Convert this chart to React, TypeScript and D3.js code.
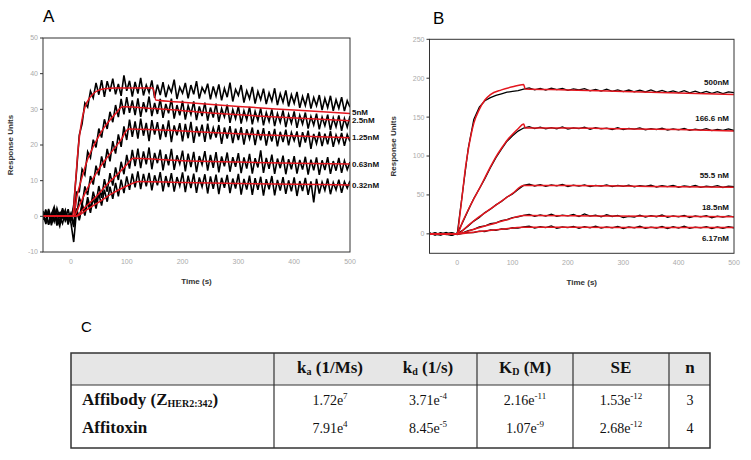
import React from 'react';
import * as d3 from 'd3';

// ---------- panel A (sampled every 5 s from -50 s) ----------
const aStart = -50;
const aStep = 5;
const aTraces: number[][] = [
  // 5nM
  [1.5,-2.1,0.8,-1.2,2.4,-0.6,-2.8,1.1,-0.9,2.0,-1.4,3.2,12.5,22.8,25.9,31.8,30.6,35.1,33.2,37.4,34.1,38.2,33.5,37.9,35.0,38.6,34.2,37.1,33.8,39.5,35.2,38.0,33.6,37.7,34.4,38.8,33.9,36.8,34.7,38.1,33.2,36.9,34.0,37.6,33.4,36.5,34.8,38.3,32.9,36.2,34.5,37.4,33.1,36.8,34.2,37.9,33.0,36.1,34.6,37.2,32.8,36.4,33.7,37.0,32.5,35.9,33.4,37.5,32.2,35.6,33.9,36.8,31.9,35.2,33.0,36.3,31.6,35.0,32.7,35.8,31.5,34.6,32.3,35.9,31.2,34.4,32.0,35.3,30.8,34.1,31.7,34.9,30.4,33.6,31.1,34.5,30.2,33.3,31.0,34.0,29.8,33.1,30.5,33.8,29.6,32.7,30.3,33.4,29.5,32.4,30.6],
  // 2.5nM
  [-0.8,1.9,-2.4,0.6,-1.5,2.2,-0.3,-2.0,1.4,-1.1,0.9,-2.5,6.8,6.9,13.2,11.6,18.1,16.4,21.5,19.3,24.6,22.1,27.2,24.5,29.3,26.4,31.2,27.8,32.9,28.6,33.4,29.0,32.5,28.4,33.1,27.9,32.0,29.2,33.6,28.1,31.8,28.7,32.9,27.6,31.5,28.9,33.0,27.4,31.2,28.3,32.4,27.1,31.0,28.6,32.2,27.0,30.8,28.1,31.9,26.8,30.5,27.7,31.6,26.5,30.2,27.9,31.3,26.2,29.9,27.4,30.9,26.0,29.6,27.1,30.7,25.8,29.4,26.9,30.3,25.5,29.1,26.6,30.0,25.3,28.8,26.3,29.7,25.0,28.6,26.1,29.4,24.8,28.3,25.9,29.1,24.6,28.0,25.6,28.8,24.4,27.8,25.4,28.5,24.2,27.6,25.1,28.3,24.0,27.4,25.0,28.1],
  // 1.25nM
  [0.4,-1.7,2.1,-0.9,1.2,-2.6,0.7,1.8,-1.3,0.2,-0.6,2.4,0.1,5.2,3.1,8.4,6.0,11.3,8.9,14.2,11.5,16.8,13.6,18.9,15.4,21.1,17.6,23.0,19.5,25.2,21.4,27.1,22.3,26.6,21.8,27.4,22.6,26.2,21.1,27.0,22.9,26.4,21.5,25.8,22.2,26.9,20.8,25.5,22.7,26.1,21.0,25.9,21.9,26.5,20.6,25.2,22.4,25.7,20.9,26.0,21.6,24.8,22.1,25.6,20.3,24.9,21.8,25.3,20.5,24.6,21.4,25.0,20.1,24.4,21.7,24.9,20.0,24.2,21.3,24.7,19.8,23.9,21.0,24.5,19.6,23.7,20.8,24.3,19.9,23.5,21.2,23.8,19.4,23.6,20.7,24.0,18.9,23.1,20.4,23.7,19.7,23.2,20.2,23.9,19.5,22.8,20.6,23.4,19.8,22.9,21.0],
  // 0.63nM
  [-1.0,1.3,-2.2,0.5,2.6,-1.6,0.9,-0.4,1.7,-2.3,0.8,-3.0,2.2,-0.7,3.6,0.9,5.4,2.1,6.9,3.8,8.5,5.2,10.4,6.9,12.1,8.6,13.7,10.2,15.3,11.8,17.2,13.4,18.6,14.1,19.0,13.5,18.2,14.6,19.3,13.2,17.8,14.9,18.7,12.9,17.4,14.3,18.9,13.0,17.1,14.7,18.4,12.6,17.6,13.8,18.1,12.4,16.9,14.5,18.3,12.8,17.2,13.6,18.0,12.3,16.8,14.0,17.9,12.5,16.6,13.9,17.7,12.1,16.5,13.4,17.5,12.0,16.3,13.7,18.5,12.2,16.4,13.3,17.3,11.9,16.2,13.5,17.0,11.8,16.0,13.2,16.9,12.0,15.8,13.1,16.7,11.7,15.9,12.9,16.5,11.6,15.7,13.0,16.6,11.9,15.5,12.8,16.4,12.2,15.6,13.1,15.2],
  // 0.32nM
  [0.9,-1.4,1.6,-2.5,0.3,1.1,-1.9,2.3,-0.7,0.4,-1.8,-7.2,1.5,-1.1,3.0,0.2,4.1,1.0,5.3,2.2,6.4,3.0,7.5,4.1,8.3,4.9,9.4,5.6,10.3,6.5,11.2,7.4,12.0,8.1,12.6,7.6,11.9,8.4,12.2,7.3,11.5,8.7,12.4,7.0,11.3,8.2,12.1,6.9,11.0,8.5,12.3,6.8,11.4,7.9,12.0,6.6,10.9,8.3,11.8,6.4,11.2,7.7,11.7,6.2,10.8,8.0,11.6,6.5,10.6,7.8,11.9,6.1,10.5,7.5,11.4,6.0,10.7,7.4,11.1,5.8,10.4,7.6,11.3,5.9,10.2,7.2,11.0,6.3,10.1,7.0,10.9,5.7,9.9,7.1,10.8,6.0,9.8,3.9,10.5,6.4,9.6,7.3,10.6,6.2,9.5,7.4,10.3,6.6,9.7,7.9,10.0],
];

// fitted curves, [time, response]
const aFits: [number, number][][] = [
  [[-50,0],[3,0],[8,9],[13,19],[18,25.5],[25,30.5],[35,33.5],[45,35],[60,35.8],[80,36],[147,36],[152,32.6],[200,32],[300,30.8],[400,29.8],[500,28.8]],
  [[-50,0],[5,0],[10,5],[20,11],[30,16],[40,19.5],[50,22.5],[60,25],[70,27],[80,28.8],[93,30.7],[150,30.2],[250,29],[350,28],[500,26.8]],
  [[-50,0],[5,0],[15,3],[30,8],[45,12],[60,15.5],[75,18.5],[90,21.5],[103,24.5],[150,24.3],[250,23.5],[350,22.8],[500,22]],
  [[-50,0],[8,0],[25,2.5],[45,5.5],[65,9],[85,12],[100,14.5],[112,16.3],[150,16],[200,15.6],[300,15.2],[400,14.9],[500,14.7]],
  [[-50,0],[8,0],[30,2],[50,4],[75,6.5],[100,8.5],[122,9.8],[200,9.5],[300,9.2],[400,9],[500,8.8]],
];
const aLabels = ['5nM', '2.5nM', '1.25nM', '0.63nM', '0.32nM'];
const aLabelAt = [29.2, 27, 22.2, 14.6, 8.7];
const aYTicks = [-10, 0, 10, 20, 30, 40, 50];

// ---------- panel B (sampled every 10 s from -50 s) ----------
const bStart = -50;
const bStep = 10;
const bTraces: number[][] = [
  // 500nM
  [1.2,-1.5,0.8,-0.9,1.6,-0.5,55,110,147,163,171,175,178,180,182,183,184,186,187.5,185.0,186.8,184.7,187.2,185.3,186.9,184.4,186.3,184.9,186.6,183.8,185.7,183.5,185.9,183.2,185.1,182.9,184.8,182.6,184.5,182.3,184.9,182.0,184.2,181.8,183.6,181.5,183.9,181.2,183.3,180.9,183.0,180.6,182.7,180.2,182.4,181.5],
  // 166.6 nM
  [-0.8,1.4,-1.2,0.6,-1.7,0.9,15,30.5,45.5,58,71,85,98,109,119,126,132,136,137.8,135.2,137.1,134.9,136.6,135.0,137.4,134.6,136.2,135.3,137.0,134.4,136.5,134.8,135.9,134.1,136.3,133.9,135.6,134.5,136.1,133.6,135.2,134.0,135.8,133.3,134.9,133.7,135.4,132.9,134.6,133.4,135.1,132.6,134.2,133.0,134.8,132.8],
  // 55.5 nM
  [0.7,-1.3,1.5,-0.6,-1.9,0.4,4.5,10.2,16.4,21.0,27.3,31.5,37.2,41.6,47.4,51.2,57.0,62.3,63.9,61.5,63.2,61.0,62.8,61.7,63.5,60.9,62.6,61.3,63.0,60.7,62.4,61.4,62.9,60.6,62.2,61.1,62.7,60.4,62.0,60.9,62.5,60.2,61.8,60.8,62.3,59.9,61.6,60.5,62.1,59.7,61.4,60.3,61.9,59.6,61.2,60.8],
  // 18.5nM
  [-1.1,0.9,-0.4,1.8,-1.5,0.6,1.2,4.3,5.8,8.9,10.1,13.0,14.2,17.1,18.3,20.8,21.9,23.6,25.1,22.6,24.4,22.9,25.3,22.4,24.1,23.0,24.8,22.2,25.6,22.7,24.0,21.8,24.5,22.3,23.7,20.9,22.5,21.6,23.9,21.4,23.3,22.0,24.2,21.2,23.1,21.9,23.8,20.8,23.0,21.7,23.4,20.7,22.8,21.5,23.2,21.8],
  // 6.17nM
  [1.0,-0.7,-1.6,0.5,1.3,-0.9,0.6,1.9,1.5,3.4,3.0,5.1,4.6,6.5,6.0,7.8,7.3,8.9,9.8,7.4,9.1,7.9,10.2,7.2,8.8,8.1,9.6,7.0,9.3,7.7,10.0,7.3,8.9,7.8,9.5,6.9,9.0,7.6,9.7,7.1,8.7,7.5,9.4,6.8,9.2,7.4,9.9,7.0,8.6,7.6,9.3,6.9,8.8,7.2,9.1,7.8],
];
const bFits: [number, number][][] = [
  [[-50,0],[0,0],[5,25],[10,55],[15,85],[20,108],[25,127],[30,142],[40,160],[50,172],[60,179],[80,185],[100,189],[120,192],[123,186],[200,185],[300,183],[400,181],[500,179]],
  [[-50,0],[0,0],[10,16],[20,31],[30,45],[40,58],[50,72],[60,86],[70,99],[80,110],[90,120],[100,128],[110,135],[120,141],[123,136],[200,136],[300,135],[400,134],[500,132]],
  [[-50,0],[0,0],[20,11],[40,22],[60,32],[80,42],[100,52],[120,62],[200,62],[350,61],[500,60]],
  [[-50,0],[0,0],[30,6],[60,12],[90,18],[120,23.5],[250,23],[500,22]],
  [[-50,0],[0,0],[40,3],[80,6],[120,8.5],[300,8.2],[500,8]],
];
const bLabels = ['500nM', '166.6 nM', '55.5 nM', '18.5nM', '6.17nM'];
const bLabelAt = [194.5, 148, 76, 34, -6];
const bYTicks = [0, 50, 100, 150, 200, 250];

const xTicks = [0, 100, 200, 300, 400, 500];

// ---------- table C ----------
const rowNames = ['Affibody', 'Affitoxin'];
const kaVals = [['1.72e', '7'], ['7.91e', '4']];
const kdVals = [['3.71e', '-4'], ['8.45e', '-5']];
const KDVals = [['2.16e', '-11'], ['1.07e', '-9']];
const seVals = [['1.53e', '-12'], ['2.68e', '-12']];
const nVals = ['3', '4'];

const SANS = '"Liberation Sans", Arial, sans-serif';
const SERIF = '"Liberation Serif", "Times New Roman", serif';
const RED = '#e3161e';

type PanelProps = {
  id: string;
  letter: string;
  letterPos: [number, number];
  box: [number, number, number, number];
  yDomain: [number, number];
  yTicks: number[];
  traces: number[][];
  start: number;
  step: number;
  fits: [number, number][][];
  labels: string[];
  labelAt: number[];
  labelX: number;
  labelAnchor: string;
  traceWidth: number;
  titleOffset: number;
};

function Panel(p: PanelProps) {
  const [x0, y0, x1, y1] = p.box;
  const x = d3.scaleLinear().domain([-50, 500]).range([x0, x1]);
  const y = d3.scaleLinear().domain(p.yDomain).range([y1, y0]);
  const traceLine = d3.line<number>()
    .x((_, i) => x(p.start + p.step * i))
    .y((d) => y(d));
  const fitLine = d3.line<[number, number]>()
    .x((d) => x(d[0]))
    .y((d) => y(d[1]))
    .curve(d3.curveMonotoneX);
  return (
    <g>
      <defs>
        <clipPath id={'clip' + p.id}>
          <rect x={x0} y={y0} width={x1 - x0} height={y1 - y0} />
        </clipPath>
      </defs>
      <text x={p.letterPos[0]} y={p.letterPos[1]} fontFamily={SANS} fontSize={17}>{p.letter}</text>
      <g clipPath={`url(#clip${p.id})`}>
        {p.traces.map((t, i) => (
          <path key={'t' + i} d={traceLine(t) || ''} fill="none" stroke="#000" strokeWidth={p.traceWidth} />
        ))}
        {p.fits.map((f, i) => (
          <path key={'f' + i} d={fitLine(f) || ''} fill="none" stroke={RED} strokeWidth={1.5} />
        ))}
      </g>
      <rect x={x0} y={y0} width={x1 - x0} height={y1 - y0} fill="none" stroke="#333" strokeWidth={1} />
      {p.yTicks.map((t) => (
        <g key={'y' + t}>
          <line x1={x0 - 3} x2={x0} y1={y(t)} y2={y(t)} stroke="#333" />
          <text x={x0 - 5} y={y(t)} dy="0.35em" textAnchor="end" fontFamily={SANS} fontSize={7} fill="#aaa">{t}</text>
        </g>
      ))}
      {xTicks.map((t) => (
        <text key={'x' + t} x={x(t)} y={y1 + 12} textAnchor="middle" fontFamily={SANS} fontSize={7} fill="#aaa">{t}</text>
      ))}
      <text x={(x0 + x1) / 2} y={y1 + 32} textAnchor="middle" fontFamily={SANS} fontSize={8} fontWeight="bold" fill="#333">Time (s)</text>
      <text transform={`translate(${x0 - p.titleOffset},${(y0 + y1) / 2}) rotate(-90)`} textAnchor="middle" fontFamily={SANS} fontSize={8} fontWeight="bold" fill="#333">Response Units</text>
      {p.labels.map((l, i) => (
        <text key={'l' + i} x={p.labelX} y={y(p.labelAt[i])} dy="0.35em" textAnchor={p.labelAnchor} fontFamily={SANS} fontSize={8} fontWeight="bold" fill="#111">{l}</text>
      ))}
    </g>
  );
}

function Sup({ v, x, y }: { v: string[]; x: number; y: number }) {
  return (
    <text x={x} y={y} textAnchor="middle" fontFamily={SERIF} fontSize={14} fill="#111">
      {v[0]}
      <tspan dy={-6} fontSize={9}>{v[1]}</tspan>
    </text>
  );
}

function Table() {
  const left = 71, right = 710, top = 353, headBot = 385, bottom = 448;
  const cols = [274, 477, 573, 669];
  const rowY = [405, 433];
  const kaX = 330, kdX = 428, KDX = 525, seX = 621, nX = 690;
  return (
    <g>
      <text x={81} y={332} fontFamily={SANS} fontSize={15}>C</text>
      <rect x={left} y={top} width={right - left} height={headBot - top} fill="#e6e6e6" />
      <rect x={left} y={top} width={right - left} height={bottom - top} fill="none" stroke="#333" strokeWidth={1.5} />
      <line x1={left} x2={right} y1={headBot} y2={headBot} stroke="#333" strokeWidth={1.2} />
      {cols.map((c) => (
        <line key={c} x1={c} x2={c} y1={top} y2={bottom} stroke="#333" strokeWidth={1.2} />
      ))}
      <g fontFamily={SERIF} fontSize={17} fontWeight="bold" fill="#111" textAnchor="middle">
        <text x={kaX} y={373}>k<tspan fontSize={10} dy={2}>a</tspan><tspan dy={-2}> (1/Ms)</tspan></text>
        <text x={kdX} y={373}>k<tspan fontSize={10} dy={2}>d</tspan><tspan dy={-2}> (1/s)</tspan></text>
        <text x={KDX} y={373}>K<tspan fontSize={10} dy={2}>D</tspan><tspan dy={-2}> (M)</tspan></text>
        <text x={seX} y={373}>SE</text>
        <text x={nX} y={373}>n</text>
      </g>
      <g fontFamily={SERIF} fontSize={17} fontWeight="bold" fill="#111">
        <text x={82} y={rowY[0]}>{rowNames[0]} (Z<tspan fontSize={10} dy={2}>HER2:342</tspan><tspan dy={-2}>)</tspan></text>
        <text x={82} y={rowY[1]}>{rowNames[1]}</text>
      </g>
      {rowY.map((ry, i) => (
        <g key={i}>
          <Sup v={kaVals[i]} x={kaX} y={ry} />
          <Sup v={kdVals[i]} x={kdX} y={ry} />
          <Sup v={KDVals[i]} x={KDX} y={ry} />
          <Sup v={seVals[i]} x={seX} y={ry} />
          <text x={nX} y={ry} textAnchor="middle" fontFamily={SERIF} fontSize={14} fill="#111">{nVals[i]}</text>
        </g>
      ))}
    </g>
  );
}

export default function App() {
  return (
    <svg width={751} height={460} style={{ position: 'absolute', left: 0, top: 0, background: '#fff' }}>
      <Panel id="A" letter="A" letterPos={[43, 22]} box={[43, 38, 350, 252]} yDomain={[-10, 50]} yTicks={aYTicks}
        traces={aTraces} start={aStart} step={aStep} fits={aFits} labels={aLabels} labelAt={aLabelAt}
        labelX={352} labelAnchor="start" traceWidth={1.6} titleOffset={30} />
      <Panel id="B" letter="B" letterPos={[433, 24]} box={[429.5, 39.3, 734, 253.3]} yDomain={[-25, 250]} yTicks={bYTicks}
        traces={bTraces} start={bStart} step={bStep} fits={bFits} labels={bLabels} labelAt={bLabelAt}
        labelX={729} labelAnchor="end" traceWidth={1.3} titleOffset={34} />
      <Table />
    </svg>
  );
}
